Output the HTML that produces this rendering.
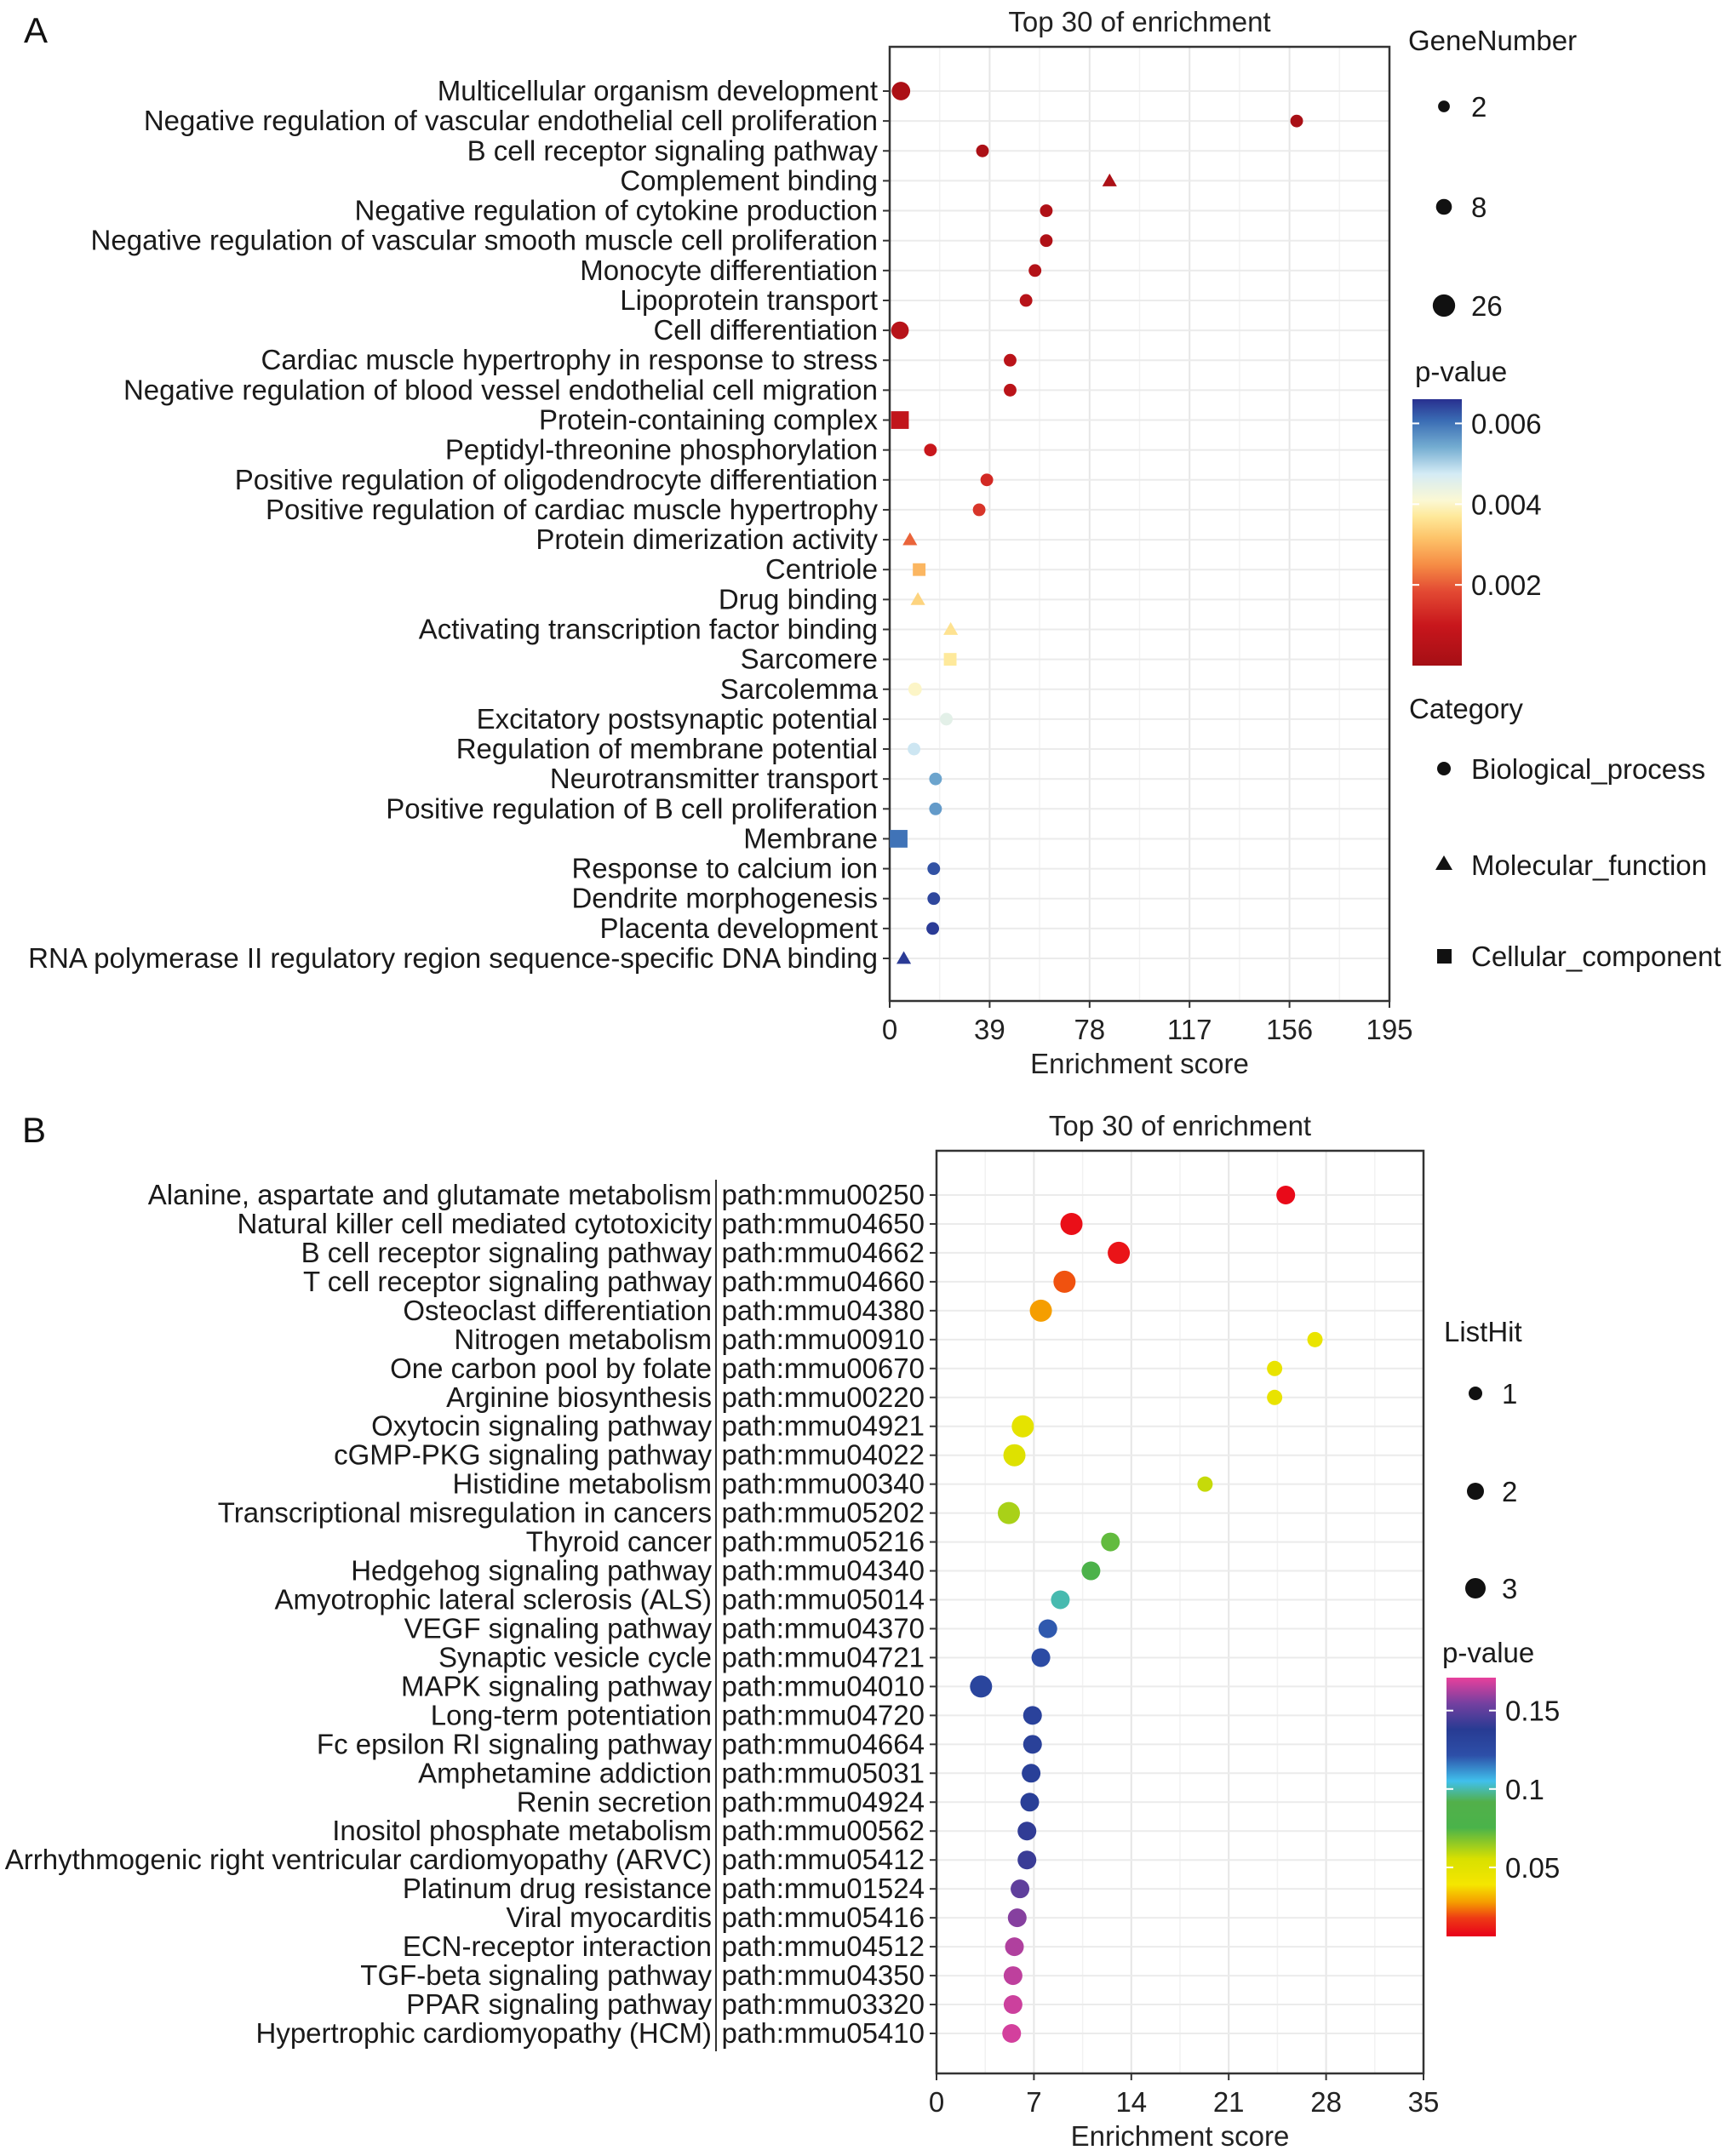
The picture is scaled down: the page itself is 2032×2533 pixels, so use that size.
<!DOCTYPE html>
<html><head><meta charset="utf-8"><style>
html,body{margin:0;padding:0;background:#fff}
svg{display:block;font-family:"Liberation Sans",Arial,sans-serif}
</style></head><body>
<svg id="s" width="2032" height="2533" viewBox="0 0 2032 2533" xmlns="http://www.w3.org/2000/svg"></svg>
<script>
// ---------- Panel A data ----------
const aTerms=["Multicellular organism development","Negative regulation of vascular endothelial cell proliferation","B cell receptor signaling pathway","Complement binding","Negative regulation of cytokine production","Negative regulation of vascular smooth muscle cell proliferation","Monocyte differentiation","Lipoprotein transport","Cell differentiation","Cardiac muscle hypertrophy in response to stress","Negative regulation of blood vessel endothelial cell migration","Protein-containing complex","Peptidyl-threonine phosphorylation","Positive regulation of oligodendrocyte differentiation","Positive regulation of cardiac muscle hypertrophy","Protein dimerization activity","Centriole","Drug binding","Activating transcription factor binding","Sarcomere","Sarcolemma","Excitatory postsynaptic potential","Regulation of membrane potential","Neurotransmitter transport","Positive regulation of B cell proliferation","Membrane","Response to calcium ion","Dendrite morphogenesis","Placenta development","RNA polymerase II regulatory region sequence-specific DNA binding"];
const aScore=[4.4,158.8,36.2,85.8,61.1,61.1,56.7,53.2,4.0,47,47,4.0,15.9,37.9,34.9,7.9,11.5,11,23.8,23.6,9.9,22.1,9.5,17.9,17.9,3.5,17.2,17.2,16.8,5.5];
const aGenes=[14,3,3,3,3,3,3,3,12,3,3,12,3,3,3,3,3,3,3,3,4,3,3,3,3,12,3,3,3,3];
const aPval=[0.0002,0.0001,0.0002,0.0002,0.0003,0.0003,0.0004,0.0005,0.0005,0.0006,0.0006,0.0008,0.001,0.0013,0.0015,0.0021,0.003,0.0034,0.0036,0.0037,0.004,0.0045,0.0048,0.0055,0.0056,0.006,0.0063,0.0064,0.0065,0.0065];
const aCat=["bp","bp","bp","mf","bp","bp","bp","bp","bp","bp","bp","cc","bp","bp","bp","mf","cc","mf","mf","cc","bp","bp","bp","bp","bp","cc","bp","bp","bp","mf"];
const aTicks=[0,39,78,117,156,195];
const aSizeLegend=[2,8,26];
const aPTicks=[0.006,0.004,0.002];
// ---------- Panel B data ----------
const bTerms=["Alanine, aspartate and glutamate metabolism","Natural killer cell mediated cytotoxicity","B cell receptor signaling pathway","T cell receptor signaling pathway","Osteoclast differentiation","Nitrogen metabolism","One carbon pool by folate","Arginine biosynthesis","Oxytocin signaling pathway","cGMP-PKG signaling pathway","Histidine metabolism","Transcriptional misregulation in cancers","Thyroid cancer","Hedgehog signaling pathway","Amyotrophic lateral sclerosis (ALS)","VEGF signaling pathway","Synaptic vesicle cycle","MAPK signaling pathway","Long-term potentiation","Fc epsilon RI signaling pathway","Amphetamine addiction","Renin secretion","Inositol phosphate metabolism","Arrhythmogenic right ventricular cardiomyopathy (ARVC)","Platinum drug resistance","Viral myocarditis","ECN-receptor interaction","TGF-beta signaling pathway","PPAR signaling pathway","Hypertrophic cardiomyopathy (HCM)"];
const bPaths=["path:mmu00250","path:mmu04650","path:mmu04662","path:mmu04660","path:mmu04380","path:mmu00910","path:mmu00670","path:mmu00220","path:mmu04921","path:mmu04022","path:mmu00340","path:mmu05202","path:mmu05216","path:mmu04340","path:mmu05014","path:mmu04370","path:mmu04721","path:mmu04010","path:mmu04720","path:mmu04664","path:mmu05031","path:mmu04924","path:mmu00562","path:mmu05412","path:mmu01524","path:mmu05416","path:mmu04512","path:mmu04350","path:mmu03320","path:mmu05410"];
const bScore=[25.1,9.7,13.1,9.2,7.5,27.2,24.3,24.3,6.2,5.6,19.3,5.2,12.5,11.1,8.9,8.0,7.5,3.2,6.9,6.9,6.8,6.7,6.5,6.5,6.0,5.8,5.6,5.5,5.5,5.4];
const bHits=[2,3,3,3,3,1,1,1,3,3,1,3,2,2,2,2,2,3,2,2,2,2,2,2,2,2,2,2,2,2];
const bPval=[0.008,0.009,0.01,0.02,0.028,0.045,0.046,0.046,0.048,0.052,0.058,0.062,0.072,0.08,0.1,0.12,0.125,0.13,0.132,0.133,0.134,0.135,0.14,0.142,0.15,0.157,0.163,0.165,0.167,0.168];
const bTicks=[0,7,14,21,28,35];
const bSizeLegend=[1,2,3];
const bPTicks=[0.15,0.1,0.05];

const NS="http://www.w3.org/2000/svg";
const svg=document.getElementById('s');
const FS=33;
function el(tag,attrs,parent,text){const e=document.createElementNS(NS,tag);for(const k in attrs)e.setAttribute(k,attrs[k]);if(text!==undefined)e.textContent=text;(parent||svg).appendChild(e);return e;}
function lerpColor(stops,t){t=Math.max(0,Math.min(1,t));for(let i=1;i<stops.length;i++){if(t<=stops[i][0]){const a=stops[i-1],b=stops[i];const f=(t-a[0])/(b[0]-a[0]||1);const c1=a[1],c2=b[1];const h=(c,i)=>parseInt(c.substr(1+2*i,2),16);const r=[0,1,2].map(j=>Math.round(h(c1,j)+(h(c2,j)-h(c1,j))*f));return 'rgb('+r.join(',')+')';}}return stops[stops.length-1][1];}
const aStops=[[0,"#a50f15"],[0.15,"#c8161c"],[0.28,"#e34a33"],[0.38,"#f68d45"],[0.48,"#fdc46a"],[0.56,"#fee99a"],[0.62,"#fbf8d4"],[0.72,"#d4ebf5"],[0.82,"#74add1"],[0.92,"#3a6cb4"],[1,"#28308f"]];
const bStops=[[0,"#e8001a"],[0.07,"#ee3a14"],[0.13,"#f59a00"],[0.2,"#f5e600"],[0.3,"#d8e000"],[0.42,"#4ab34a"],[0.52,"#52b04a"],[0.6,"#40c0ec"],[0.7,"#2d4fa8"],[0.8,"#283b93"],[0.9,"#7440a0"],[1,"#e8409c"]];
const aPmin=0,aPmax=0.0066,bPmin=0.006,bPmax=0.171;

function panel(o){
  const g=el('g',{});
  const X=v=>o.x0+(v-o.tick[0])/(o.tick[o.tick.length-1]-o.tick[0])*(o.x1-o.x0);
  const Y=i=>o.r0+i*(o.r1-o.r0)/(o.n-1);
  el('rect',{x:o.x0,y:o.y0,width:o.x1-o.x0,height:o.y1-o.y0,fill:'#fff'},g);
  for(let i=0;i<o.tick.length-1;i++){const m=(X(o.tick[i])+X(o.tick[i+1]))/2;el('line',{x1:m,x2:m,y1:o.y0,y2:o.y1,stroke:'#f2f2f2','stroke-width':1.5},g);}
  for(const t of o.tick){el('line',{x1:X(t),x2:X(t),y1:o.y0,y2:o.y1,stroke:'#e6e6e6','stroke-width':2},g);}
  for(let i=0;i<o.n;i++){el('line',{x1:o.x0,x2:o.x1,y1:Y(i),y2:Y(i),stroke:'#ebebeb','stroke-width':2},g);}
  el('rect',{x:o.x0,y:o.y0,width:o.x1-o.x0,height:o.y1-o.y0,fill:'none',stroke:'#333','stroke-width':2.5,},g);
  for(const t of o.tick){
    el('line',{x1:X(t),x2:X(t),y1:o.y1,y2:o.y1+8,stroke:'#333','stroke-width':2},g);
    const tl=el('text',{x:X(t),y:o.y1+45,'font-size':FS,'text-anchor':'middle',fill:'#222'},g,String(t));
    
    
  }
  const xt=el('text',{x:(o.x0+o.x1)/2,y:o.y1+85,'font-size':FS,'text-anchor':'middle',fill:'#222'},g,'Enrichment score');
  
  const tt=el('text',{x:(o.x0+o.x1)/2,y:o.y0-18,'font-size':FS,'text-anchor':'middle',fill:'#222'},g,'Top 30 of enrichment');
  
  for(let i=0;i<o.n;i++){
    const y=Y(i);
    el('line',{x1:o.x0-8,x2:o.x0,y1:y,y2:y,stroke:'#333','stroke-width':2},g);
    const lab=el('text',{x:o.labelX,y:y+11,'font-size':FS,'text-anchor':'end',fill:'#1a1a1a'},g,o.terms[i]);
    
    if(o.paths){const p=el('text',{x:o.x0-14,y:y+11,'font-size':FS,'text-anchor':'end',fill:'#1a1a1a'},g,o.paths[i]);
      }
    const cx=X(o.score[i]),r=o.rad(o.size[i]),col=o.color(o.p[i]);
    let m;const cat=o.cat?o.cat[i]:'bp';
    if(cat==='mf'){const s=r*1.15;m=el('polygon',{points:`${cx},${y-s} ${cx-s},${y+s*0.75} ${cx+s},${y+s*0.75}`,fill:col},g);}
    else if(cat==='cc'){m=el('rect',{x:cx-r,y:y-r,width:2*r,height:2*r,fill:col},g);}
    else m=el('circle',{cx:cx,cy:y,r:r,fill:col},g);
    
    
  }
  return {X,Y};
}
let t=el('text',{x:28,y:50,'font-size':42,fill:'#111'},svg,'A');
t=el('text',{x:26,y:1342,'font-size':42,fill:'#111'},svg,'B');

const radA=n=>4.5+1.7*Math.sqrt(n);
const colA=p=>lerpColor(aStops,(p-aPmin)/(aPmax-aPmin));
panel({name:'panel-a',x0:1045,x1:1632,y0:55,y1:1176,r0:107,r1:1126,n:30,tick:aTicks,terms:aTerms,score:aScore,size:aGenes,p:aPval,cat:aCat,labelX:1031,rad:radA,color:colA});
const radB=n=>7+2*n;
const colB=p=>lerpColor(bStops,(p-bPmin)/(bPmax-bPmin));
panel({name:'panel-b',x0:1100,x1:1672,y0:1352,y1:2436,r0:1404,r1:2389,n:30,tick:bTicks,terms:bTerms,paths:bPaths,score:bScore,size:bHits,p:bPval,labelX:836,rad:radB,color:colB});
el('line',{x1:841,x2:841,y1:1386,y2:2410,stroke:'#333','stroke-width':2,});

function txt(x,y,s,size,name){const e=el('text',{x:x,y:y,'font-size':size||FS,fill:'#1a1a1a'},svg,s);return e;}
txt(1654,59,'GeneNumber',FS,'legend-title-genenumber');
const aLegY=[125,243,359];
aSizeLegend.forEach((n,i)=>{const c=el('circle',{cx:1696,cy:aLegY[i],r:radA(n),fill:'#111'});txt(1728,aLegY[i]+12,String(n),FS,'legend-label');});
txt(1662,448,'p-value',FS,'legend-title-pvalue');
let defs=el('defs',{});
let gA=el('linearGradient',{id:'gA',x1:0,y1:1,x2:0,y2:0},defs);
aStops.forEach(s=>el('stop',{offset:s[0],'stop-color':s[1]},gA));
el('rect',{x:1659,y:469,width:58,height:313,fill:'url(#gA)',});
const cbA=p=>782-(p-aPmin)/(aPmax-aPmin)*313;
aPTicks.forEach(p=>{el('line',{x1:1659,x2:1667,y1:cbA(p),y2:cbA(p),stroke:'#fff','stroke-width':2});el('line',{x1:1709,x2:1717,y1:cbA(p),y2:cbA(p),stroke:'#fff','stroke-width':2});txt(1728,cbA(p)+12,String(p),FS,'colorbar-tick');});
txt(1655,844,'Category',FS,'legend-title-category');
el('circle',{cx:1696,cy:903,r:8,fill:'#111',});
txt(1728,915,'Biological_process',FS,'legend-label');
el('polygon',{points:'1696,1005 1686,1022 1706,1022',fill:'#111',});
txt(1728,1028,'Molecular_function',FS,'legend-label');
el('rect',{x:1688,y:1115,width:17,height:17,fill:'#111',});
txt(1728,1135,'Cellular_component',FS,'legend-label');

txt(1696,1576,'ListHit',FS,'legend-title-listhit');
const bLegY=[1637,1752,1866];
bSizeLegend.forEach((n,i)=>{const c=el('circle',{cx:1733,cy:bLegY[i],r:radB(n)-1,fill:'#111'});txt(1764,bLegY[i]+12,String(n),FS,'legend-label');});
txt(1694,1953,'p-value',FS,'legend-title-pvalue-b');
let gB=el('linearGradient',{id:'gB',x1:0,y1:1,x2:0,y2:0},defs);
bStops.forEach(s=>el('stop',{offset:s[0],'stop-color':s[1]},gB));
el('rect',{x:1699,y:1971,width:58,height:304,fill:'url(#gB)',});
const cbB=p=>2275-(p-bPmin)/(bPmax-bPmin)*304;
bPTicks.forEach(p=>{el('line',{x1:1699,x2:1707,y1:cbB(p),y2:cbB(p),stroke:'#fff','stroke-width':2});el('line',{x1:1749,x2:1757,y1:cbB(p),y2:cbB(p),stroke:'#fff','stroke-width':2});txt(1768,cbB(p)+12,String(p),FS,'colorbar-tick');});
</script>
</body></html>
